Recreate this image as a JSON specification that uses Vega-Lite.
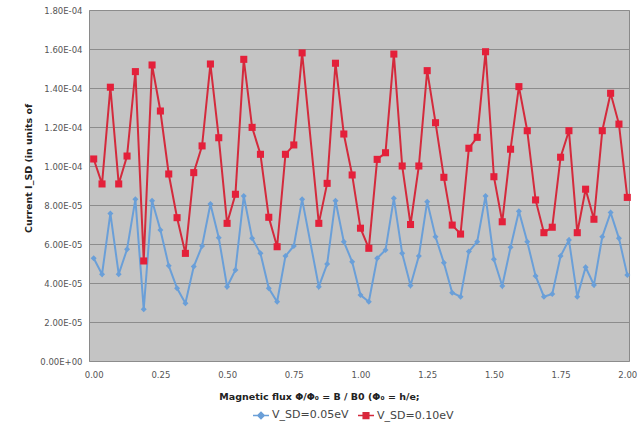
{
  "$schema": "https://vega.github.io/schema/vega-lite/v6.json",
  "width": 540,
  "height": 351,
  "autosize": {"type": "none"},
  "padding": {"left": 89, "top": 10, "right": 13, "bottom": 70},
  "background": "white",
  "config": {
    "view": {"fill": "#c4c4c4", "stroke": "#8a8a8a"},
    "font": "DejaVu Sans",
    "axis": {
      "labelFont": "DejaVu Sans",
      "labelFontSize": 8.5,
      "labelColor": "#555555",
      "titleFont": "DejaVu Sans",
      "titleFontSize": 9.5,
      "titleFontWeight": "bold",
      "titleColor": "#222222",
      "ticks": false,
      "domain": false
    },
    "legend": {
      "labelFont": "DejaVu Sans",
      "labelFontSize": 11,
      "labelColor": "#444444",
      "symbolStrokeWidth": 1.5
    }
  },
  "data": {
    "values": [
      {"x": 0, "blue": 5.27e-5, "red": 1.036e-4},
      {"x": 0.03125, "blue": 4.45e-5, "red": 9.08e-5},
      {"x": 0.0625, "blue": 7.57e-5, "red": 1.404e-4},
      {"x": 0.09375, "blue": 4.45e-5, "red": 9.08e-5},
      {"x": 0.125, "blue": 5.73e-5, "red": 1.051e-4},
      {"x": 0.15625, "blue": 8.29e-5, "red": 1.484e-4},
      {"x": 0.1875, "blue": 2.65e-5, "red": 5.13e-5},
      {"x": 0.21875, "blue": 8.22e-5, "red": 1.518e-4},
      {"x": 0.25, "blue": 6.72e-5, "red": 1.282e-4},
      {"x": 0.28125, "blue": 4.89e-5, "red": 9.59e-5},
      {"x": 0.3125, "blue": 3.73e-5, "red": 7.35e-5},
      {"x": 0.34375, "blue": 2.96e-5, "red": 5.52e-5},
      {"x": 0.375, "blue": 4.84e-5, "red": 9.66e-5},
      {"x": 0.40625, "blue": 5.90e-5, "red": 1.103e-4},
      {"x": 0.4375, "blue": 8.05e-5, "red": 1.523e-4},
      {"x": 0.46875, "blue": 6.32e-5, "red": 1.145e-4},
      {"x": 0.5, "blue": 3.81e-5, "red": 7.06e-5},
      {"x": 0.53125, "blue": 4.67e-5, "red": 8.55e-5},
      {"x": 0.5625, "blue": 8.46e-5, "red": 1.547e-4},
      {"x": 0.59375, "blue": 6.29e-5, "red": 1.198e-4},
      {"x": 0.625, "blue": 5.52e-5, "red": 1.060e-4},
      {"x": 0.65625, "blue": 3.73e-5, "red": 7.37e-5},
      {"x": 0.6875, "blue": 3.04e-5, "red": 5.86e-5},
      {"x": 0.71875, "blue": 5.38e-5, "red": 1.060e-4},
      {"x": 0.75, "blue": 5.90e-5, "red": 1.108e-4},
      {"x": 0.78125, "blue": 8.29e-5, "red": 1.580e-4},
      {"x": 0.84375, "blue": 3.81e-5, "red": 7.06e-5},
      {"x": 0.875, "blue": 4.97e-5, "red": 9.11e-5},
      {"x": 0.90625, "blue": 8.22e-5, "red": 1.527e-4},
      {"x": 0.9375, "blue": 6.12e-5, "red": 1.164e-4},
      {"x": 0.96875, "blue": 5.09e-5, "red": 9.54e-5},
      {"x": 1.0, "blue": 3.38e-5, "red": 6.81e-5},
      {"x": 1.03125, "blue": 3.04e-5, "red": 5.78e-5},
      {"x": 1.0625, "blue": 5.27e-5, "red": 1.034e-4},
      {"x": 1.09375, "blue": 5.69e-5, "red": 1.068e-4},
      {"x": 1.125, "blue": 8.34e-5, "red": 1.574e-4},
      {"x": 1.15625, "blue": 5.52e-5, "red": 1.000e-4},
      {"x": 1.1875, "blue": 3.87e-5, "red": 7.00e-5},
      {"x": 1.21875, "blue": 5.38e-5, "red": 1.000e-4},
      {"x": 1.25, "blue": 8.17e-5, "red": 1.489e-4},
      {"x": 1.28125, "blue": 6.37e-5, "red": 1.222e-4},
      {"x": 1.3125, "blue": 5.04e-5, "red": 9.42e-5},
      {"x": 1.34375, "blue": 3.50e-5, "red": 6.97e-5},
      {"x": 1.375, "blue": 3.30e-5, "red": 6.51e-5},
      {"x": 1.40625, "blue": 5.61e-5, "red": 1.091e-4},
      {"x": 1.4375, "blue": 6.12e-5, "red": 1.147e-4},
      {"x": 1.46875, "blue": 8.46e-5, "red": 1.586e-4},
      {"x": 1.5, "blue": 5.22e-5, "red": 9.45e-5},
      {"x": 1.53125, "blue": 3.85e-5, "red": 7.14e-5},
      {"x": 1.5625, "blue": 5.83e-5, "red": 1.086e-4},
      {"x": 1.59375, "blue": 7.68e-5, "red": 1.407e-4},
      {"x": 1.625, "blue": 6.12e-5, "red": 1.181e-4},
      {"x": 1.65625, "blue": 4.36e-5, "red": 8.26e-5},
      {"x": 1.6875, "blue": 3.30e-5, "red": 6.58e-5},
      {"x": 1.71875, "blue": 3.44e-5, "red": 6.86e-5},
      {"x": 1.75, "blue": 5.38e-5, "red": 1.045e-4},
      {"x": 1.78125, "blue": 6.21e-5, "red": 1.181e-4},
      {"x": 1.8125, "blue": 3.30e-5, "red": 6.58e-5},
      {"x": 1.84375, "blue": 4.81e-5, "red": 8.81e-5},
      {"x": 1.875, "blue": 3.90e-5, "red": 7.27e-5},
      {"x": 1.90625, "blue": 6.37e-5, "red": 1.181e-4},
      {"x": 1.9375, "blue": 7.61e-5, "red": 1.373e-4},
      {"x": 1.96875, "blue": 6.29e-5, "red": 1.215e-4},
      {"x": 2.0, "blue": 4.41e-5, "red": 8.39e-5}
    ]
  },
  "transform": [{"fold": ["blue", "red"], "as": ["series", "y"]}],
  "encoding": {
    "x": {
      "field": "x",
      "type": "quantitative",
      "scale": {"domain": [-0.0176, 2.0064], "nice": false, "zero": false},
      "axis": {
        "values": [0, 0.25, 0.5, 0.75, 1, 1.25, 1.5, 1.75, 2],
        "format": ".2f",
        "grid": false,
        "labelPadding": 9,
        "title": "Magnetic flux Φ/Φ₀ = B / B0 (Φ₀ = h/e;",
        "titleX": 230,
        "titleY": 35,
        "titleAlign": "center",
        "titleBaseline": "middle"
      }
    },
    "y": {
      "field": "y",
      "type": "quantitative",
      "scale": {"domain": [0, 0.00018], "nice": false, "zero": true},
      "axis": {
        "values": [0, 0.00002, 0.00004, 0.00006, 0.00008, 0.0001, 0.00012, 0.00014, 0.00016, 0.00018],
        "labelExpr": "replace(replace(upper(format(datum.value, '.2e')), 'E-', 'E-0'), 'E+', 'E+0')",
        "grid": true,
        "gridColor": "#8c8c8c",
        "gridWidth": 1,
        "labelPadding": 7,
        "title": "Current I_SD (in units of",
        "titleX": -61,
        "titleY": 158,
        "titleAngle": -90,
        "titleAlign": "center",
        "titleBaseline": "middle"
      }
    }
  },
  "layer": [
    {
      "transform": [{"filter": "datum.series == 'blue'"}],
      "mark": {"type": "line", "strokeWidth": 2, "color": "#6a9fd8"}
    },
    {
      "transform": [{"filter": "datum.series == 'red'"}],
      "mark": {"type": "line", "strokeWidth": 2, "color": "#d42a3c"}
    },
    {
      "transform": [{"filter": "datum.series == 'blue'"}],
      "mark": {"type": "point", "shape": "diamond", "filled": true, "size": 36, "color": "#6a9fd8", "opacity": 1}
    },
    {
      "transform": [{"filter": "datum.series == 'red'"}],
      "mark": {"type": "point", "shape": "square", "filled": true, "size": 50, "color": "#e4203a", "opacity": 1}
    },
    {
      "transform": [{"filter": "false"}],
      "mark": {"type": "point", "filled": true, "opacity": 1},
      "encoding": {
        "fill": {
          "field": "series",
          "type": "nominal",
          "scale": {"domain": ["blue", "red"], "range": ["#6a9fd8", "#e4203a"]},
          "legend": {"title": null, "orient": "none", "legendX": 163, "legendY": 396, "direction": "horizontal", "symbolSize": 256, "labelOffset": 2, "columnPadding": 6, "labelExpr": "datum.value == 'blue' ? 'V_SD=0.05eV' : 'V_SD=0.10eV'"}
        },
        "stroke": {
          "field": "series",
          "type": "nominal",
          "scale": {"domain": ["blue", "red"], "range": ["#6a9fd8", "#d42a3c"]},
          "legend": {"title": null, "orient": "none", "legendX": 163, "legendY": 396, "direction": "horizontal", "symbolSize": 256, "labelOffset": 2, "columnPadding": 6, "labelExpr": "datum.value == 'blue' ? 'V_SD=0.05eV' : 'V_SD=0.10eV'"}
        },
        "shape": {
          "field": "series",
          "type": "nominal",
          "scale": {"domain": ["blue", "red"], "range": ["M-1,0L1,0M0,-0.4L0.4,0L0,0.4L-0.4,0Z", "M-1,0L1,0M-0.35,-0.35L0.35,-0.35L0.35,0.35L-0.35,0.35Z"]},
          "legend": {"title": null, "orient": "none", "legendX": 163, "legendY": 396, "direction": "horizontal", "symbolSize": 256, "labelOffset": 2, "columnPadding": 6, "labelExpr": "datum.value == 'blue' ? 'V_SD=0.05eV' : 'V_SD=0.10eV'"}
        }
      }
    }
  ]
}
